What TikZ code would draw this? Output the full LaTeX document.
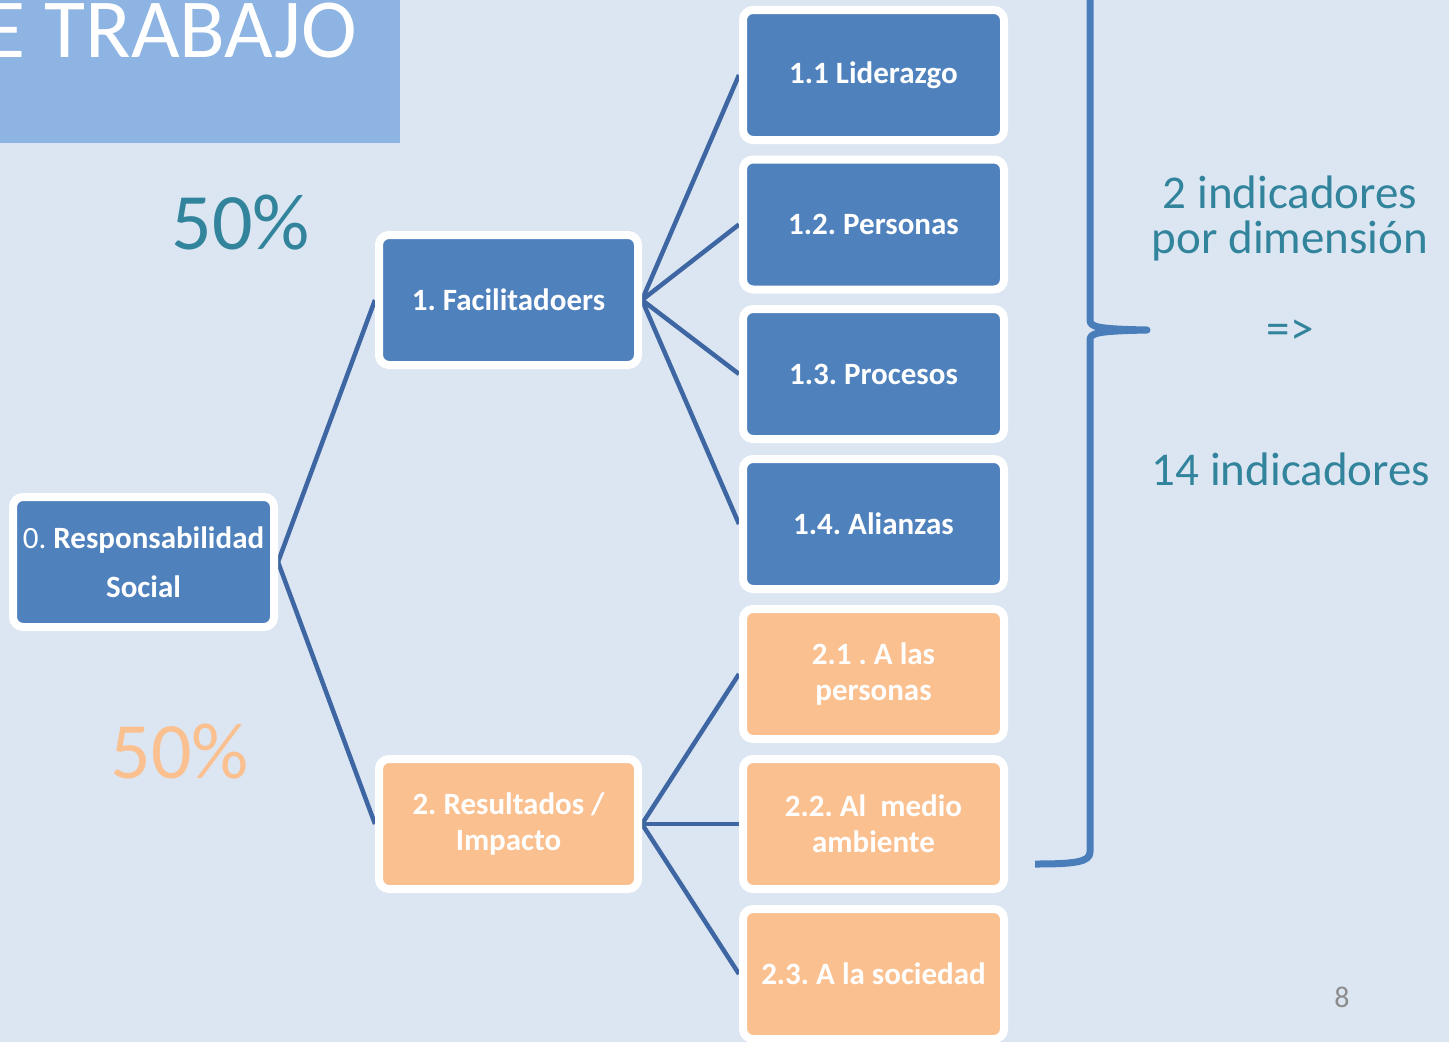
\documentclass[tikz,border=0pt]{standalone}
\usepackage{fontspec}
\setmainfont{Carlito}
\usetikzlibrary{backgrounds}
\definecolor{bg}{HTML}{DCE6F2}
\definecolor{titlebg}{HTML}{8EB4E3}
\definecolor{boxblue}{HTML}{4F81BD}
\definecolor{boxorange}{HTML}{FAC090}
\definecolor{linkblue}{HTML}{3D66A2}
\definecolor{bracecol}{HTML}{4A7EBB}
\definecolor{tealtext}{HTML}{31849B}
\definecolor{pagegray}{HTML}{8C8C8C}
\begin{document}
\frenchspacing
\begin{tikzpicture}[x=1pt,y=-1pt,
  box/.style={draw=white, line width=8pt, rounded corners=10pt, minimum width=261pt,
    minimum height=130pt, inner sep=0pt, text=white,
    font=\fontsize{31}{36}\selectfont\bfseries, align=center},
  bluebox/.style={box, fill=boxblue},
  orangebox/.style={box, fill=boxorange},
  link/.style={draw=linkblue, line width=4.5pt},
  bigpct/.style={font=\fontsize{80}{80}\selectfont, anchor=base, inner sep=0pt},
  sidetext/.style={text=tealtext, font=\fontsize{47}{47}\selectfont, anchor=base, inner sep=0pt},
]
\useasboundingbox (0,0) rectangle (1449,1042);
% title
\fill[titlebg] (0,0) rectangle (400,143);
\begin{scope}
  \clip (0,0) rectangle (400,143);
  \node[text=white, font=\fontsize{84}{84}\selectfont, anchor=base east, inner sep=0pt] (title) at (357,57) {E TRABAJO};
\end{scope}
% percentages
\node[bigpct, text=tealtext] (p1) at (241,249) {50\%};
\node[bigpct, text=boxorange] (p2) at (180,778) {50\%};
% root
\node[bluebox, font=\fontsize{31}{49}\selectfont\bfseries] (root) at (143.5,562) {{\mdseries 0.} Responsabilidad\\Social};
% second level
\node[bluebox, minimum width=259pt] (n1) at (508.5,300) {1. Facilitadoers};
\node[orangebox, minimum width=259pt] (n2) at (508.5,824) {2. Resultados /\\Impacto};
% third level
\node[bluebox] (n11) at (873.5,75) {1.1 Liderazgo};
\node[bluebox] (n12) at (873.5,224.5) {1.2. Personas};
\node[bluebox] (n13) at (873.5,374) {1.3. Procesos};
\node[bluebox] (n14) at (873.5,524) {1.4. Alianzas};
\node[orangebox] (n21) at (873.5,674) {2.1 . A las\\personas};
\node[orangebox] (n22) at (873.5,824) {2.2. Al\ \ medio\\ambiente};
\node[orangebox] (n23) at (873.5,974) {2.3. A la sociedad};
% side texts
\node[sidetext] (s1) at (1290,208) {2 indicadores};
\node[sidetext] (s2) at (1290,253) {por dimensión};
\node[sidetext] (s3) at (1290,344) {=>};
\node[sidetext] (s4) at (1291,485) {14 indicadores};
\node[text=pagegray, font=\fontsize{30}{30}\selectfont, anchor=base, inner sep=0pt] (page) at (1342,1007) {8};
% brace
\draw[bracecol, line width=7pt, line join=round]
  (1090,-20) -- (1090,320) .. controls (1090,327) and (1097,329) .. (1147,330)
  .. controls (1097,331) and (1090,333) .. (1090,340) -- (1090,852)
  .. controls (1090,862) and (1075,864) .. (1035,864);
\begin{pgfonlayer}{background}
  \fill[bg] (0,0) rectangle (1449,1042);
  \draw[link] (root.east) -- (n1.west);
  \draw[link] (root.east) -- (n2.west);
  \draw[link] (n1.east) -- (n11.west);
  \draw[link] (n1.east) -- (n12.west);
  \draw[link] (n1.east) -- (n13.west);
  \draw[link] (n1.east) -- (n14.west);
  \draw[link] (n2.east) -- (n21.west);
  \draw[link] (n2.east) -- (n22.west);
  \draw[link] (n2.east) -- (n23.west);
\end{pgfonlayer}
\end{tikzpicture}
\end{document}
